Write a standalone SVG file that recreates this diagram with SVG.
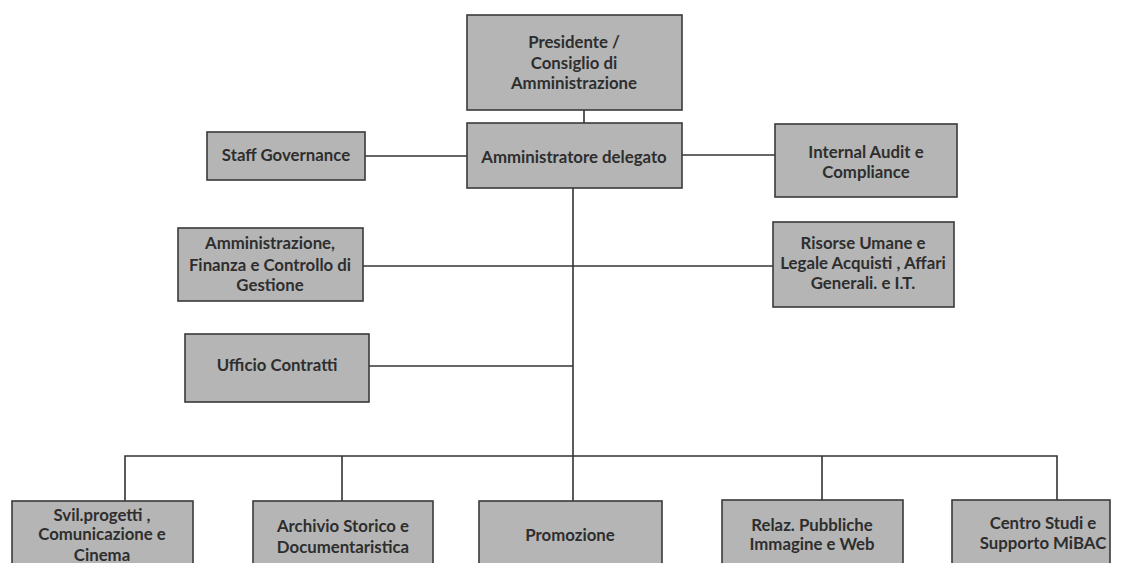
<svg xmlns="http://www.w3.org/2000/svg" width="1121" height="563" viewBox="0 0 1121 563">
<style>
.box{fill:#b5b5b5;stroke:#3a3a3a;stroke-width:1.6}
.t{font-family:Lato,"Open Sans","Liberation Sans",sans-serif;font-weight:bold;font-size:16.8px;fill:#2e2e2e;text-anchor:middle}
.ln{stroke:#333;stroke-width:1.6;fill:none}
</style>
<rect width="1121" height="563" fill="#fff"/>
<g id="connectors">
<line class="ln" x1="584" y1="110" x2="584" y2="123"/>
<line class="ln" x1="365" y1="156" x2="467" y2="156"/>
<line class="ln" x1="682" y1="155" x2="775" y2="155"/>
<line class="ln" x1="573" y1="188" x2="573" y2="456"/>
<line class="ln" x1="363" y1="266" x2="773" y2="266"/>
<line class="ln" x1="369" y1="366" x2="573" y2="366"/>
<polyline class="ln" points="125,501 125,456 1057,456 1057,501"/>
<line class="ln" x1="342" y1="456" x2="342" y2="501"/>
<line class="ln" x1="573" y1="456" x2="573" y2="501"/>
<line class="ln" x1="822" y1="456" x2="822" y2="500"/>
</g>
<g id="presidente"><rect class="box" x="467" y="15" width="215" height="95"/>
<text class="t" x="574" y="48">Presidente /</text><text class="t" x="574" y="69">Consiglio di</text><text class="t" x="574" y="89">Amministrazione</text></g>
<g id="ad"><rect class="box" x="467" y="123" width="215" height="65"/>
<text class="t" x="574" y="163">Amministratore delegato</text></g>
<g id="staff"><rect class="box" x="207" y="132" width="158" height="48"/>
<text class="t" x="286" y="161">Staff Governance</text></g>
<g id="audit"><rect class="box" x="775" y="124" width="182" height="73"/>
<text class="t" x="866" y="158">Internal Audit e</text><text class="t" x="866" y="178">Compliance</text></g>
<g id="afc"><rect class="box" x="178" y="228" width="185" height="73"/>
<text class="t" x="270" y="249">Amministrazione,</text><text class="t" x="270" y="271">Finanza e Controllo di</text><text class="t" x="270" y="291">Gestione</text></g>
<g id="risorse"><rect class="box" x="773" y="222" width="181" height="85"/>
<text class="t" x="863" y="249">Risorse Umane e</text><text class="t" x="863" y="269">Legale Acquisti  , Affari</text><text class="t" x="863" y="289">Generali. e I.T.</text></g>
<g id="contratti"><rect class="box" x="185" y="334" width="184" height="68"/>
<text class="t" x="277" y="371">Ufficio Contratti</text></g>
<g id="svil"><rect class="box" x="12" y="501" width="181" height="70"/>
<text class="t" x="102" y="521">Svil.progetti ,</text><text class="t" x="102" y="540">Comunicazione e</text><text class="t" x="102" y="561">Cinema</text></g>
<g id="archivio"><rect class="box" x="253" y="501" width="180" height="70"/>
<text class="t" x="343" y="532">Archivio Storico  e</text><text class="t" x="343" y="553">Documentaristica</text></g>
<g id="promozione"><rect class="box" x="479" y="501" width="183" height="70"/>
<text class="t" x="570" y="541">Promozione</text></g>
<g id="relaz"><rect class="box" x="722" y="500" width="181" height="70"/>
<text class="t" x="812" y="531">Relaz. Pubbliche</text><text class="t" x="812" y="550">Immagine e Web</text></g>
<g id="centro"><rect class="box" x="952" y="500" width="158" height="70"/>
<text class="t" x="1043" y="529">Centro Studi e</text><text class="t" x="1043" y="549">Supporto MiBAC</text></g>
</svg>
